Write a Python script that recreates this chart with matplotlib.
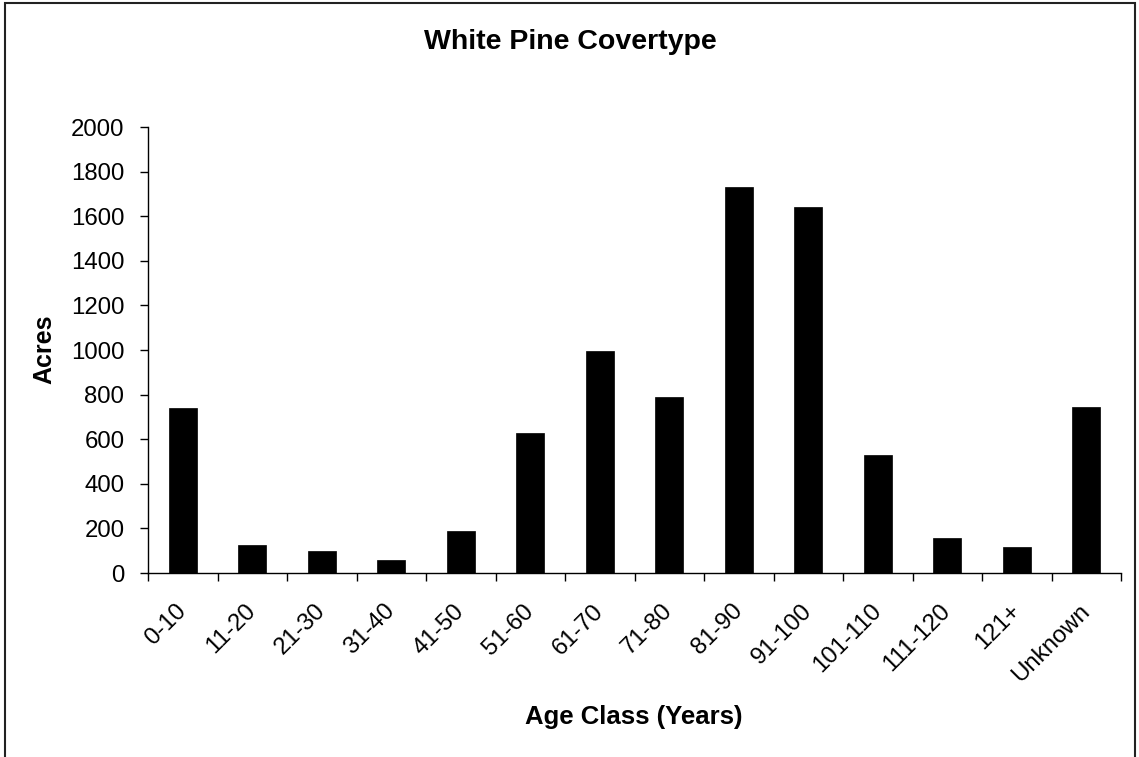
import matplotlib
matplotlib.use("Agg")
import matplotlib.pyplot as plt
from matplotlib.patches import Rectangle
import numpy as np

plt.rcParams['font.family'] = ['Liberation Sans', 'DejaVu Sans']

age_classes = ['0-10', '11-20', '21-30', '31-40', '41-50', '51-60', '61-70',
               '71-80', '81-90', '91-100', '101-110', '111-120', '121+', 'Unknown']
acres = [742, 124, 100, 60, 190, 627, 995, 791, 1732, 1643, 531, 158, 116, 744]
y_ticks = list(range(0, 2001, 200))

fig = plt.figure(figsize=(11.39, 7.57), dpi=100)
ax = fig.add_axes([148/1139, 1 - 573/757, (1121 - 148)/1139, (573 - 127)/757])

x = np.arange(len(age_classes))
ax.bar(x, acres, width=0.41, color='black', edgecolor='black', linewidth=0.5)

ax.set_xlim(-0.5, len(age_classes) - 0.5)
ax.set_ylim(0, 2000)
ax.set_yticks(y_ticks)
ax.tick_params(axis='y', direction='out', length=6, width=1, labelsize=17.3, pad=11)

# category labels at centers, tick marks at boundaries (Excel style)
ax.set_xticks(np.arange(-0.5, len(age_classes), 1.0))
ax.set_xticklabels([])
ax.tick_params(axis='x', which='major', direction='out', length=6, width=1)
ax.set_xticks(x, minor=True)
ax.set_xticklabels(age_classes, minor=True, rotation=45, ha='right', va='center',
                   rotation_mode='anchor', fontsize=17.3)
ax.tick_params(axis='x', which='minor', length=0, pad=25)

for s in ['top', 'right']:
    ax.spines[s].set_visible(False)
for s in ['left', 'bottom']:
    ax.spines[s].set_linewidth(1)

fig.text(570/1139, 1 - 42/757, 'White Pine Covertype', ha='center', va='center',
         fontsize=20.5, fontweight='bold')
fig.text(634/1139, 1 - 717/757, 'Age Class (Years)', ha='center', va='center',
         fontsize=18.5, fontweight='bold')
fig.text(44/1139, 1 - 349/757, 'Acres', ha='center', va='center', rotation=90,
         fontsize=18, fontweight='bold')

# chart area border
fig.patches.append(Rectangle((4.5/1139, -0.02), (1135 - 4.5)/1139, 1.02 - 3/757,
                             transform=fig.transFigure, fill=False,
                             edgecolor='#222222', linewidth=1.5))

fig.savefig('out.png', dpi=100)
